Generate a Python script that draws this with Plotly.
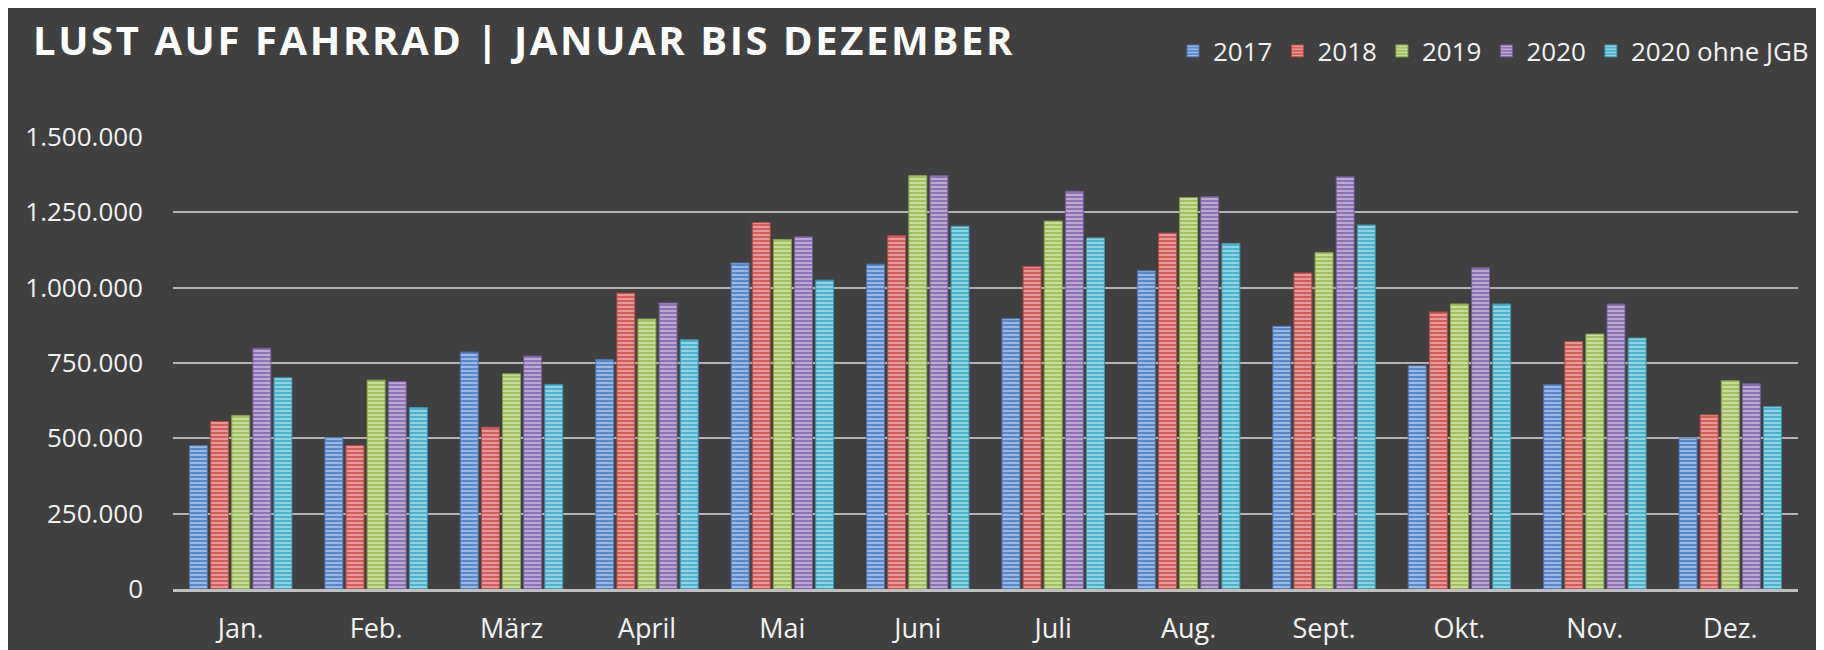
import plotly.graph_objects as go

months = ["Jan.", "Feb.", "März", "April", "Mai", "Juni", "Juli", "Aug.", "Sept.", "Okt.", "Nov.", "Dez."]
series_names = ["2017", "2018", "2019", "2020", "2020 ohne JGB"]

v2017 = [476000, 502000, 786000, 762000, 1082000, 1078000, 897000, 1056000, 872000, 741000, 678000, 501000]
v2018 = [556000, 476000, 537000, 982000, 1216000, 1173000, 1070000, 1181000, 1049000, 919000, 821000, 578000]
v2019 = [576000, 693000, 714000, 896000, 1160000, 1372000, 1221000, 1299000, 1117000, 946000, 846000, 691000]
v2020 = [799000, 688000, 773000, 949000, 1169000, 1372000, 1320000, 1302000, 1368000, 1066000, 946000, 681000]
v2020_ohne = [701000, 602000, 679000, 827000, 1025000, 1204000, 1165000, 1147000, 1208000, 946000, 833000, 605000]

y_ticks = [0, 250000, 500000, 750000, 1000000, 1250000, 1500000]

series_values = [v2017, v2018, v2019, v2020, v2020_ohne]
base_colors = ["#5b88c9", "#cf5f5c", "#a2c062", "#8e73b3", "#4eb2cb"]
stripe_colors = ["#a9c5ea", "#eea8a6", "#d3e4ab", "#c6b7dc", "#a3dbea"]
line_colors = ["#4a73ad", "#b04946", "#86a14b", "#735a97", "#3b94ab"]

# figure sits at an 8px page offset (white border on top/left like the reference)
W, H = 1816, 642
ML, MR, MT, MB = 165, 26, 129, 61
PW, PH = W - ML - MR, H - MT - MB

fig = go.Figure()
for name, vals, bc, sc, lc in zip(series_names, series_values, base_colors, stripe_colors, line_colors):
    fig.add_trace(go.Bar(
        name=name, x=months, y=vals,
        marker=dict(color=bc, line=dict(color=lc, width=1),
                    pattern=dict(shape="-", fgcolor=sc, bgcolor=bc, size=4, solidity=0.4, fgopacity=1)),
    ))

fig.update_layout(
    width=W, height=H,
    margin=dict(l=ML, r=MR, t=MT, b=MB, autoexpand=False),
    paper_bgcolor="#404040", plot_bgcolor="#404040",
    separators=",.",
    barmode="group", bargap=0.22, bargroupgap=0.15,
    font=dict(family="Open Sans", color="#f2f2f2"),
    title=dict(text="<b>LUST AUF FAHRRAD | JANUAR BIS DEZEMBER</b>",
               font=dict(family="Open Sans", size=40, color="#ffffff"),
               x=25 / W, xanchor="left", xref="container",
               y=1 - 33 / H, yanchor="middle", yref="container"),
    legend=dict(orientation="h", x=(1806 - ML) / PW, xanchor="right",
                y=1 + (MT - 43) / PH, yanchor="middle",
                font=dict(family="Open Sans", size=26, color="#f2f2f2"),
                bgcolor="rgba(0,0,0,0)", itemwidth=30, traceorder="normal"),
    showlegend=True,
)
fig.update_xaxes(showgrid=False, showline=True, linecolor="#bfbfbf", linewidth=3,
                 ticks="", tickfont=dict(size=27, color="#f2f2f2"), ticklabelstandoff=14)
fig.update_yaxes(range=[0, 1500000], tickvals=y_ticks, tickformat=",d",
                 showgrid=True, gridcolor="#b3b3b3", gridwidth=1.5, zeroline=False,
                 showline=False, ticks="", tickfont=dict(size=26, color="#f2f2f2"),
                 ticklabelstandoff=29)

post = """
document.body.style.overflow = 'hidden';
var t = document.querySelector('.gtitle');
if (t) { t.style.letterSpacing = '2.6px'; }
"""
fig.write_html("out.html", post_script=post)
